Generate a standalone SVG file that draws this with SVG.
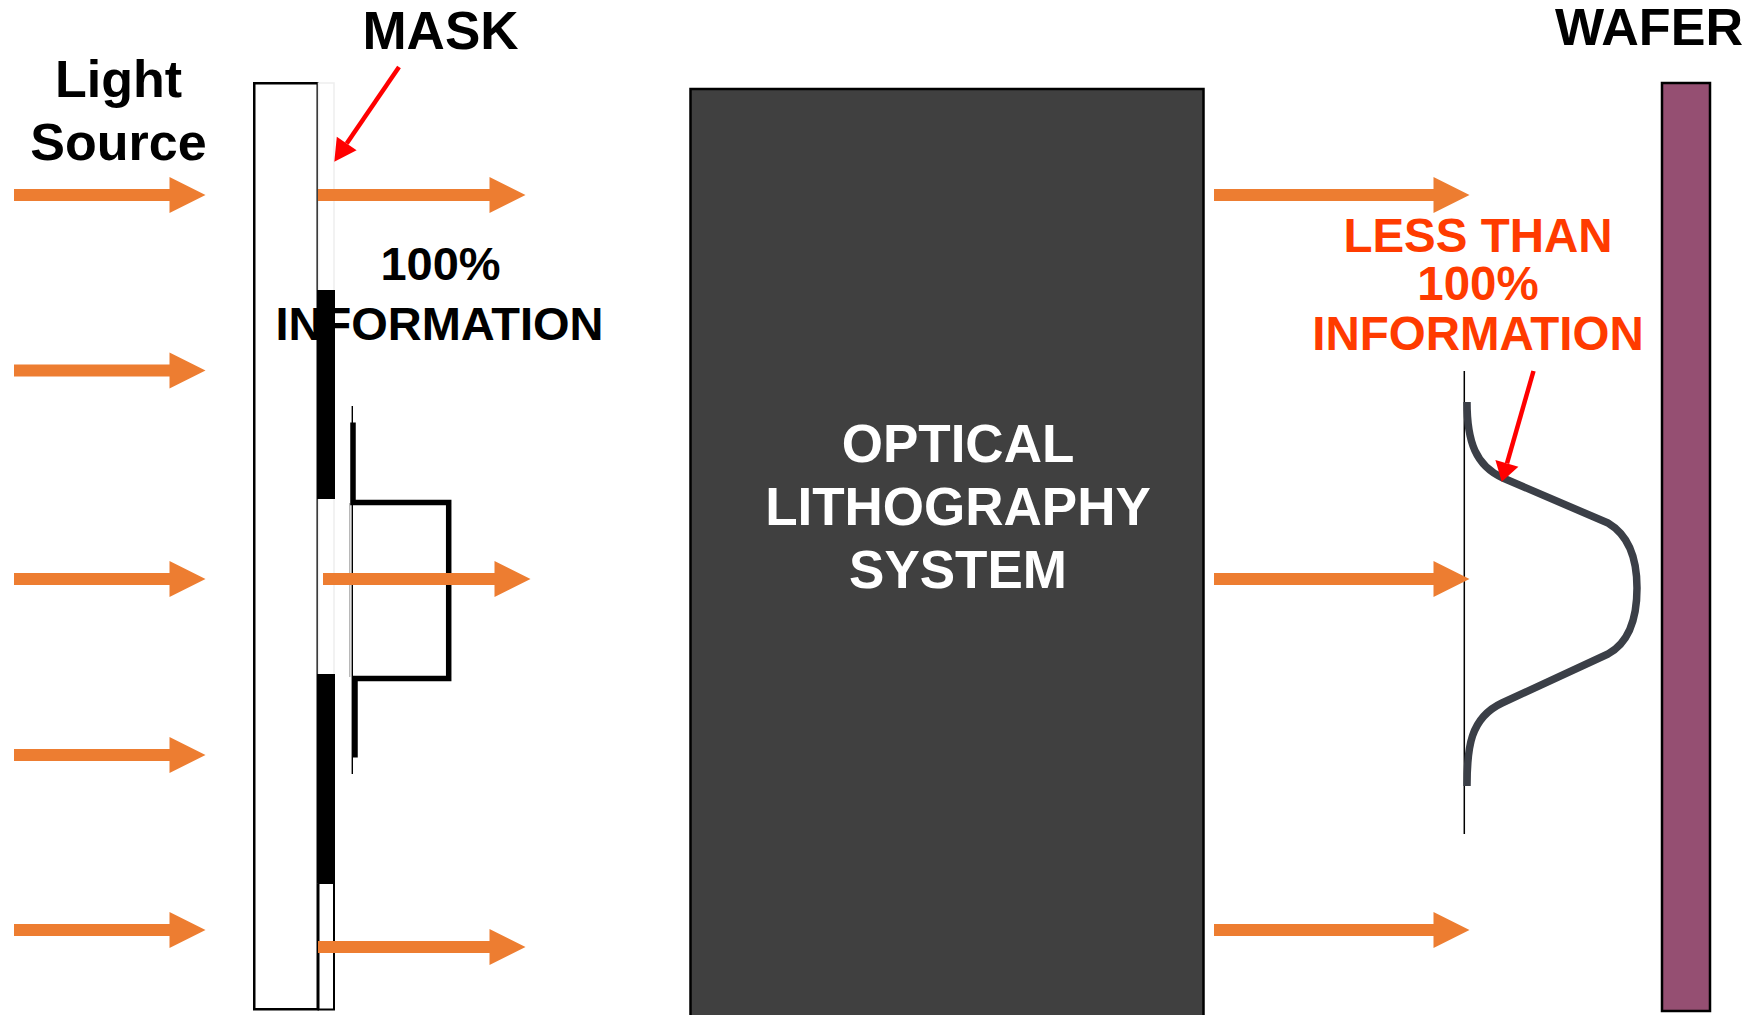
<svg xmlns="http://www.w3.org/2000/svg" width="1758" height="1015" viewBox="0 0 1758 1015">
  <style>
    .lbl { font-family: "Liberation Sans", Arial, Helvetica, sans-serif; font-weight: bold; text-anchor: middle; }
    .dark { fill: #000000; }
    .white { fill: #ffffff; }
    .hot { fill: #ff3b00; }
    .ray { fill: #ed7d31; stroke: none; }
    .pointer { stroke: #ff0000; stroke-width: 4.5; fill: none; }
    .pointer-head { fill: #ff0000; }
    .plate { fill: #ffffff; stroke: #000000; stroke-width: 2.5; }
    .chrome { fill: #000000; }
  </style>

  <rect x="0" y="0" width="1758" height="1015" fill="#ffffff"/>

  <!-- light source label -->
  <g id="light-source">
    <text class="lbl dark" x="118.5" y="97" font-size="52">Light</text>
    <text class="lbl dark" x="118.5" y="160" font-size="52">Source</text>
  </g>

  <!-- mask: glass plate with chrome pattern and its transmitted profile -->
  <g id="mask">
    <rect class="plate" x="254.25" y="83.25" width="63.5" height="926"/>
    <!-- pattern layer outline -->
    <rect x="318.5" y="83" width="15.5" height="800" fill="#ffffff" stroke="#eeeeee" stroke-width="1.5"/>
    <rect x="318.5" y="883" width="15.5" height="126.5" fill="#ffffff" stroke="#000000" stroke-width="2"/>
    <!-- chrome blocks -->
    <rect class="chrome" x="317" y="290" width="18" height="209"/>
    <rect class="chrome" x="317" y="674" width="18" height="209"/>
    <text class="lbl dark" x="440.5" y="49" font-size="53">MASK</text>
    <text class="lbl dark" x="440.5" y="280" font-size="47">100%</text>
    <text class="lbl dark" x="439.5" y="340" font-size="47">INFORMATION</text>
    <!-- square intensity profile behind the mask -->
    <line x1="352.3" y1="406" x2="352.3" y2="774" stroke="#000000" stroke-width="1.4"/>
    <line x1="349.8" y1="503" x2="349.8" y2="677" stroke="#9a9a9a" stroke-width="1"/>
    <path d="M353,422.5 V502.5 H448.7 V678.5 H355 V757.5" fill="none" stroke="#000000" stroke-width="5.5" stroke-linejoin="miter"/>
  </g>

  <!-- projection optics -->
  <g id="optics">
    <rect x="690.5" y="89" width="513" height="940" fill="#404040" stroke="#000000" stroke-width="2.5"/>
    <text class="lbl white" x="958" y="462" font-size="53">OPTICAL</text>
    <text class="lbl white" x="958" y="525" font-size="53">LITHOGRAPHY</text>
    <text class="lbl white" x="958" y="588" font-size="53">SYSTEM</text>
  </g>

  <!-- wafer and the degraded aerial image -->
  <g id="wafer">
    <rect x="1662" y="83" width="48" height="928" fill="#954f72" stroke="#000000" stroke-width="2.5"/>
    <text class="lbl dark" x="1555" y="45" font-size="52" style="text-anchor:start" textLength="188" lengthAdjust="spacingAndGlyphs">WAFER</text>
    <line x1="1464.3" y1="371" x2="1464.3" y2="834" stroke="#000000" stroke-width="1.5"/>
    <path d="M1467,402 C1467,442 1476,466 1503,478 L1608,523 C1630,536 1637,562 1637,588 C1637,616 1630,642 1608,654 L1502,703 C1470,718 1467,748 1467,786"
          fill="none" stroke="#3b3f47" stroke-width="7.5" stroke-linejoin="round"/>
    <text class="lbl hot" x="1478" y="252" font-size="47.5">LESS THAN</text>
    <text class="lbl hot" x="1478" y="300" font-size="47.5">100%</text>
    <text class="lbl hot" x="1478" y="350" font-size="47.5">INFORMATION</text>
  </g>

  <!-- light rays and pointers -->
  <g id="connectors">
    <!-- incident light -->
    <path class="ray" d="M14,189 H169.5 V177 L205.5,195 L169.5,213 V201 H14 Z"/>
    <path class="ray" d="M14,364.5 H169.5 V352.5 L205.5,370.5 L169.5,388.5 V376.5 H14 Z"/>
    <path class="ray" d="M14,573 H169.5 V561 L205.5,579 L169.5,597 V585 H14 Z"/>
    <path class="ray" d="M14,749 H169.5 V737 L205.5,755 L169.5,773 V761 H14 Z"/>
    <path class="ray" d="M14,924 H169.5 V912 L205.5,930 L169.5,948 V936 H14 Z"/>
    <!-- transmitted through the mask -->
    <path class="ray" d="M318,189 H489.5 V177 L525.5,195 L489.5,213 V201 H318 Z"/>
    <path class="ray" d="M323,573 H494.5 V561 L530.5,579 L494.5,597 V585 H323 Z"/>
    <path class="ray" d="M318,941 H489.5 V929 L525.5,947 L489.5,965 V953 H318 Z"/>
    <!-- leaving the optics -->
    <path class="ray" d="M1214,189 H1433.5 V177 L1469.5,195 L1433.5,213 V201 H1214 Z"/>
    <path class="ray" d="M1214,573 H1433.5 V561 L1469.5,579 L1433.5,597 V585 H1214 Z"/>
    <path class="ray" d="M1214,924 H1433.5 V912 L1469.5,930 L1433.5,948 V936 H1214 Z"/>
    <!-- pointers -->
    <line class="pointer" x1="399" y1="67" x2="346.7" y2="143.5"/>
    <polygon class="pointer-head" points="336.8,136.7 356.6,150.3 334.3,161.7"/>
    <line class="pointer" x1="1533.5" y1="371" x2="1507" y2="463.4"/>
    <polygon class="pointer-head" points="1495.4,460.1 1518.4,466.7 1501.7,481.7"/>
  </g>
</svg>
